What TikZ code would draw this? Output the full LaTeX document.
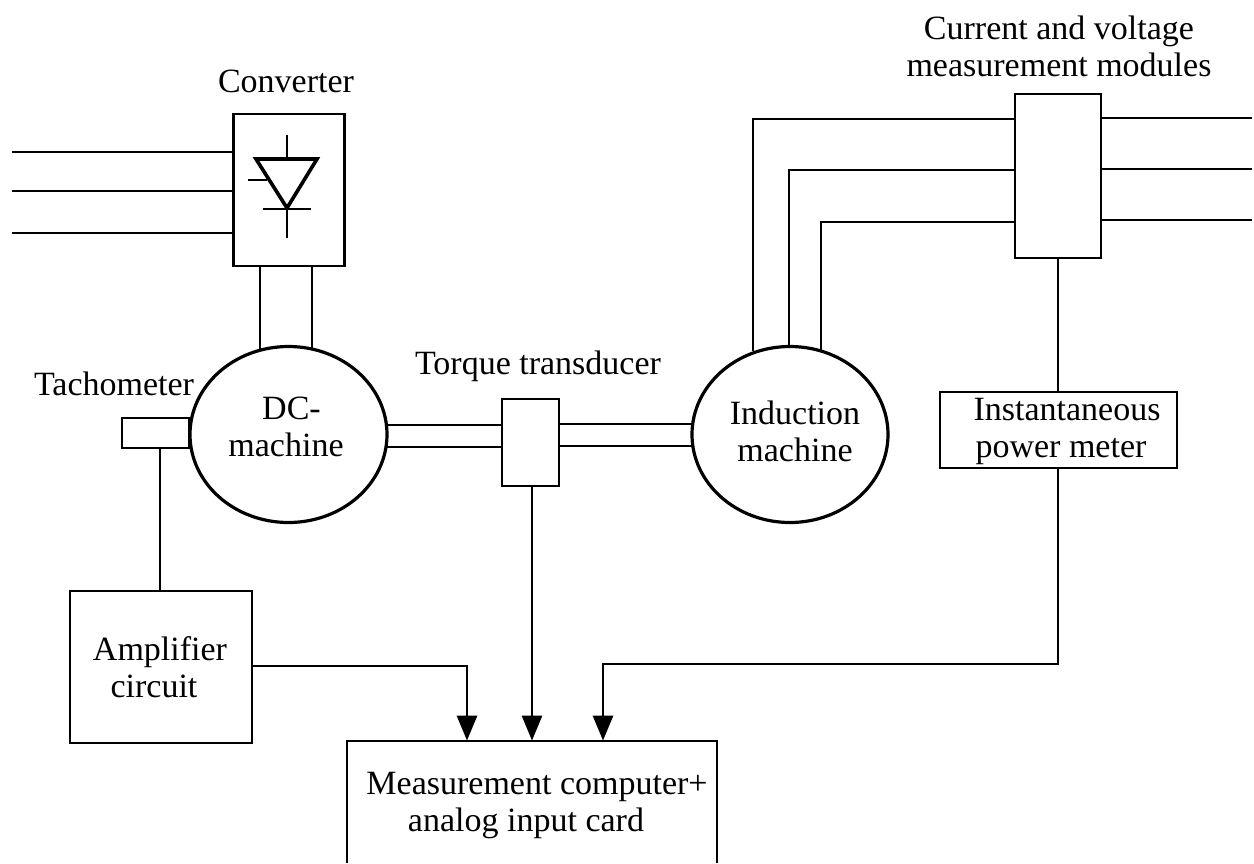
\documentclass[tikz,border=0pt]{standalone}
\usepackage{fontspec}
\setmainfont{Liberation Serif}
\usetikzlibrary{shapes.geometric,arrows.meta}
\newcommand{\lbl}{\fontsize{17}{18.3}\selectfont}
\tikzset{
  x=0.5pt,y=-0.5pt,
  wire/.style={line width=1.4pt,line cap=butt,line join=miter},
  thin wire/.style={line width=1.2pt},
  boxnode/.style={draw,line width=1.45pt,rectangle,inner sep=0pt},
  motor/.style={draw,line width=1.6pt,ellipse,inner sep=0pt},
  lab/.style={inner sep=0pt,align=center,font=\lbl,anchor=base},
  arr/.style={wire,-{Triangle[length=12.5pt,width=10pt]},shorten >=0.2pt}
}
\begin{document}
\begin{tikzpicture}
\useasboundingbox (0,0) rectangle (1254,863);
% boxes
\node[boxnode,minimum width=55.25pt,minimum height=76pt] (conv) at (289,190) {};
\node[motor,minimum width=98.5pt,minimum height=88pt] (dc) at (288.5,434.5) {};
\node[motor,minimum width=98pt,minimum height=88pt] (im) at (790,434.5) {};
\node[boxnode,minimum width=33.5pt,minimum height=15pt] (tach) at (155.5,433) {};
\node[boxnode,minimum width=91pt,minimum height=76pt] (amp) at (161,667) {};
\node[boxnode,minimum width=28.5pt,minimum height=43.5pt] (torq) at (530.5,442.5) {};
\node[boxnode,minimum width=43pt,minimum height=82pt] (mod) at (1058,176) {};
\node[boxnode,minimum width=118.5pt,minimum height=38pt] (pm) at (1058.5,430) {};
% computer: box open at the bottom edge
\coordinate (cl) at (347,863); \coordinate (cr) at (717,863);
\coordinate (ctl) at (347,741); \coordinate (ctr) at (717,741);
\draw[boxnode] (cl) -- (ctl) -- (ctr) -- (cr);
% labels
\node[lab] (ldc) at (286,456) {\hspace*{5.5pt}DC-\\machine};
\node[lab] (lim) at (795,461) {Induction\\machine};
\node[lab] (lamp) at (160,697) {Amplifier\\circuit\hspace*{6pt}\null};
\node[lab] (lpm) at (1067,457) {Instantaneous\\power meter\hspace*{6pt}\null};
\node[lab] (comp) at (537,831) {Measurement computer+\\analog input card\hspace*{11pt}\null};
\node[lab] (lconv) at (286,92) {Converter};
\node[lab] (lmod) at (1059,76) {Current and voltage\\measurement modules};
\node[lab] (ltach) at (114,395) {Tachometer};
\node[lab] (ltorq) at (538,374) {Torque transducer};
% mains
\foreach \n/\yy in {a/152,b/191,c/233}{
  \coordinate (m\n) at (12,\yy);
  \draw[thin wire] (m\n) -- (m\n -| conv.west);
}
% thyristor
\coordinate (ta) at (256,159); \coordinate (tb) at (317,159); \coordinate (tc) at (287,208);
\draw[line width=1.8pt,line join=miter] (ta) -- (tb) -- (tc) -- cycle;
\draw[thin wire] (287,135) -- (287,159);
\draw[thin wire] (287,208) -- (287,238);
\draw[thin wire] (263,209) -- (311,209);
\draw[thin wire] (248,180) -- (267,180);
% converter to dc
\coordinate (c1) at (260,350); \coordinate (c2) at (312,349);
\draw[wire] (c1 |- conv.south) -- (c1);
\draw[wire] (c2 |- conv.south) -- (c2);
% shafts
\coordinate (sa) at (387,425); \coordinate (sb) at (387,447);
\coordinate (sc) at (692,424); \coordinate (sd) at (692,446);
\draw[wire] (sa) -- (sa -| torq.west);
\draw[wire] (sb) -- (sb -| torq.west);
\draw[wire] (sc -| torq.east) -- (sc);
\draw[wire] (sd -| torq.east) -- (sd);
% tach to amp
\coordinate (tx) at (160,0);
\draw[wire] (tx |- tach.south) -- (tx |- amp.north);
% im feeds
\coordinate (f1) at (753,351); \coordinate (f2) at (789,347); \coordinate (f3) at (821,350);
\coordinate (k1) at (753,119); \coordinate (k2) at (789,170); \coordinate (k3) at (821,222);
\draw[wire] (f1) -- (k1) -- (k1 -| mod.west);
\draw[wire] (f2) -- (k2) -- (k2 -| mod.west);
\draw[wire] (f3) -- (k3) -- (k3 -| mod.west);
% mains right
\foreach \n/\yy in {a/118,b/169,c/220}{
  \coordinate (r\n) at (1252,\yy);
  \draw[wire] (r\n -| mod.east) -- (r\n);
}
% module to meter
\draw[wire] (mod.south) -- (mod.south |- pm.north);
% to computer
\coordinate (aa) at (467,741); \coordinate (ab) at (532,741); \coordinate (ac) at (603,741);
\coordinate (ak) at (467,666); \coordinate (pk) at (1058,664);
\draw[arr] (ak -| amp.east) -- (ak) -- (aa);
\draw[arr] (ab |- torq.south) -- (ab);
\draw[arr] (pk |- pm.south) -- (pk) -- (pk -| ac) -- (ac);
\end{tikzpicture}
\end{document}
